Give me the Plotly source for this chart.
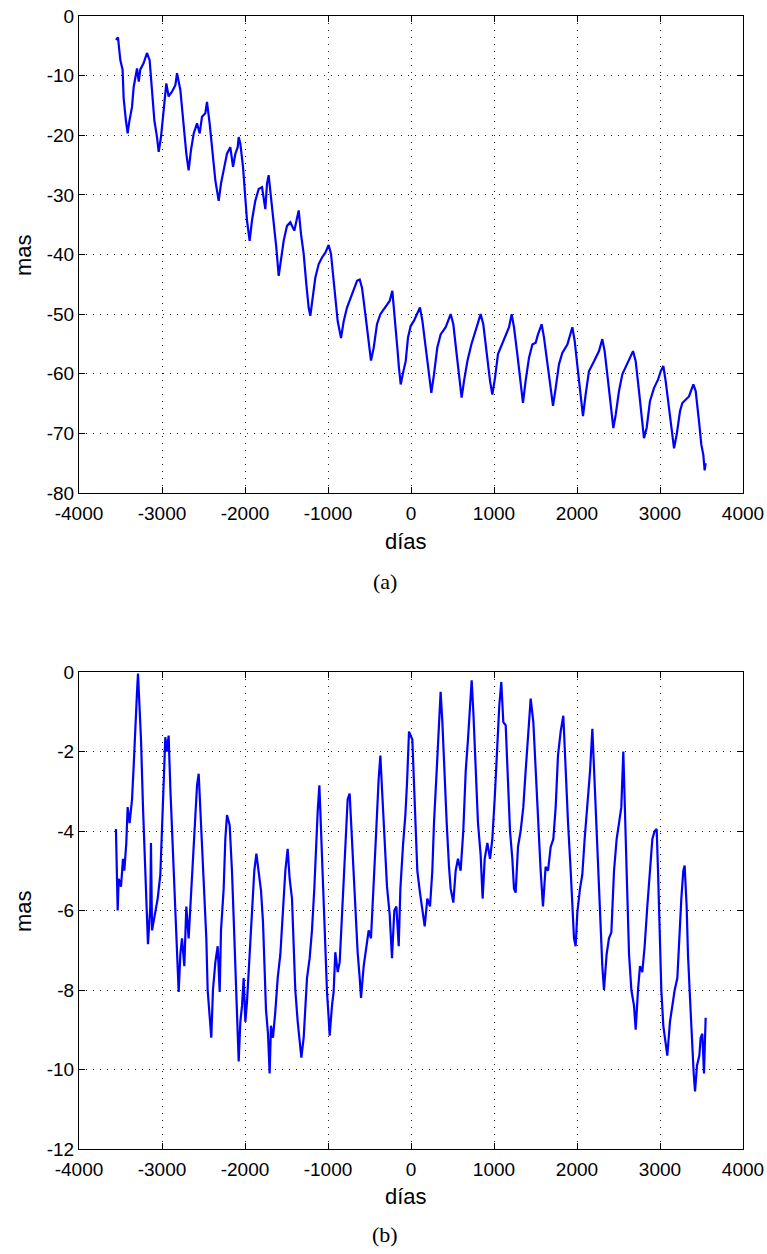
import plotly.graph_objects as go

# ---- data ----
dias_a = [-3555,-3530,-3520,-3502,-3475,-3462,-3435,-3414,-3395,-3361,-3341,-3321,-3301,-3280,-3262,-3221,-3181,-3149,-3120,-3092,-3060,-3040,-3012,-2980,-2948,-2920,-2880,-2839,-2819,-2779,-2747,-2707,-2679,-2651,-2618,-2578,-2546,-2518,-2478,-2458,-2426,-2397,-2357,-2317,-2289,-2249,-2217,-2177,-2144,-2116,-2088,-2076,-2056,-2024,-1996,-1976,-1944,-1916,-1876,-1835,-1795,-1755,-1735,-1715,-1687,-1655,-1623,-1594,-1566,-1534,-1494,-1454,-1406,-1353,-1325,-1293,-1261,-1233,-1213,-1181,-1153,-1112,-1072,-1032,-992,-964,-932,-883,-843,-811,-771,-711,-650,-618,-590,-550,-510,-482,-450,-410,-369,-309,-257,-225,-197,-165,-145,-124,-92,-64,-36,-4,36,76,108,137,165,197,229,245,277,317,357,418,478,510,550,590,610,639,679,727,779,839,871,912,952,980,1012,1048,1088,1141,1181,1213,1241,1281,1321,1349,1381,1422,1462,1502,1530,1574,1602,1642,1683,1711,1743,1783,1823,1884,1944,1972,2012,2044,2072,2104,2144,2205,2265,2305,2333,2374,2414,2438,2466,2506,2546,2586,2639,2675,2707,2747,2787,2807,2839,2879,2927,2976,3008,3040,3068,3108,3149,3169,3201,3241,3269,3309,3349,3402,3430,3470,3498,3522,3538,3550]
mas_a = [-4.0,-3.6,-5.0,-7.4,-9.0,-13.8,-17.5,-19.7,-17.8,-15.2,-11.9,-10.2,-8.8,-11.0,-9.0,-7.9,-6.2,-7.4,-11.9,-17.5,-20.3,-22.8,-20.3,-15.8,-11.3,-13.5,-12.7,-11.6,-9.6,-12.4,-17.5,-23.1,-25.9,-22.5,-19.7,-18.0,-19.7,-16.9,-16.3,-14.4,-18.0,-22.0,-27.6,-31.0,-28.1,-25.3,-23.1,-22.0,-25.3,-23.1,-22.0,-20.3,-21.4,-25.3,-31.0,-34.3,-37.7,-34.3,-31.0,-29.0,-28.7,-32.4,-28.1,-26.7,-30.4,-34.3,-38.8,-43.6,-41.1,-37.7,-35.2,-34.6,-36.0,-32.6,-36.6,-39.9,-45.0,-48.9,-50.3,-47.2,-43.9,-41.6,-40.5,-39.7,-38.4,-39.9,-44.4,-51.2,-54.0,-51.2,-48.9,-46.7,-44.4,-44.2,-45.6,-50.0,-54.6,-57.8,-55.7,-51.7,-50.0,-48.9,-47.8,-46.1,-50.0,-55.6,-59.0,-61.8,-59.6,-57.9,-53.9,-52.0,-51.1,-50.0,-48.9,-51.1,-54.5,-58.4,-61.2,-63.2,-60.1,-55.6,-53.4,-52.2,-50.0,-51.7,-56.7,-61.2,-64.0,-61.2,-57.9,-55.1,-52.8,-50.0,-51.7,-56.7,-61.2,-63.5,-60.7,-56.7,-55.3,-53.4,-52.2,-50.0,-52.2,-56.7,-61.2,-64.9,-61.2,-57.3,-55.1,-54.8,-53.4,-51.7,-53.9,-58.4,-62.4,-65.4,-62.4,-58.4,-56.5,-55.1,-52.2,-54.5,-59.6,-64.0,-67.1,-63.5,-59.6,-57.9,-56.2,-54.2,-56.2,-61.2,-66.3,-69.1,-66.9,-62.9,-60.1,-59.0,-57.3,-56.2,-57.9,-62.9,-68.0,-70.8,-69.1,-64.6,-62.4,-61.0,-59.6,-58.7,-61.2,-65.7,-70.2,-72.5,-70.2,-66.3,-64.9,-64.3,-63.8,-61.8,-62.9,-68.0,-71.9,-73.6,-76.2,-75.0]

dias_b = [-3555,-3550,-3546,-3534,-3522,-3494,-3470,-3454,-3430,-3414,-3390,-3361,-3341,-3321,-3301,-3289,-3269,-3253,-3229,-3201,-3181,-3169,-3141,-3133,-3120,-3080,-3052,-3020,-3000,-2980,-2960,-2940,-2920,-2900,-2880,-2851,-2827,-2811,-2799,-2779,-2759,-2731,-2707,-2679,-2659,-2626,-2598,-2578,-2558,-2538,-2518,-2490,-2466,-2450,-2426,-2406,-2386,-2357,-2329,-2305,-2289,-2257,-2237,-2217,-2185,-2157,-2128,-2104,-2088,-2076,-2056,-2036,-2016,-1996,-1976,-1956,-1936,-1916,-1888,-1863,-1835,-1807,-1783,-1767,-1747,-1723,-1703,-1687,-1663,-1635,-1606,-1574,-1542,-1514,-1486,-1462,-1434,-1414,-1394,-1365,-1341,-1321,-1293,-1273,-1253,-1221,-1193,-1165,-1141,-1124,-1104,-1084,-1060,-1032,-1012,-992,-980,-952,-932,-912,-883,-859,-831,-803,-779,-763,-739,-723,-699,-671,-643,-618,-602,-570,-538,-510,-482,-450,-418,-390,-369,-349,-321,-289,-257,-229,-201,-176,-148,-128,-96,-68,-48,-24,16,44,76,108,137,165,197,229,257,277,309,337,357,378,398,430,458,478,510,538,566,598,630,659,687,711,731,751,779,807,839,863,888,920,952,980,1008,1040,1064,1088,1112,1141,1161,1193,1221,1241,1261,1289,1321,1353,1381,1410,1442,1474,1502,1530,1562,1590,1622,1651,1683,1715,1743,1771,1803,1835,1863,1892,1924,1944,1964,1984,2004,2036,2064,2092,2124,2157,2185,2205,2237,2265,2285,2305,2325,2357,2385,2414,2446,2478,2506,2534,2558,2574,2598,2627,2655,2687,2707,2735,2759,2787,2815,2847,2880,2908,2936,2960,2976,3000,3016,3040,3068,3088,3120,3149,3177,3209,3229,3257,3281,3297,3321,3337,3366,3382,3406,3422,3446,3474,3490,3510,3530,3550]
mas_b = [-3.95,-4.6,-5.5,-6.0,-5.2,-5.4,-4.7,-5.0,-4.3,-3.4,-3.8,-3.2,-2.35,-1.26,-0.5,-0.04,-0.84,-1.7,-3.4,-5.0,-6.5,-6.85,-5.9,-4.3,-6.5,-6.0,-5.7,-5.1,-3.8,-2.5,-1.64,-2.0,-1.6,-2.9,-4.0,-5.4,-6.5,-7.55,-8.05,-7.1,-6.7,-7.4,-5.9,-6.7,-5.9,-4.9,-3.8,-2.85,-2.56,-3.5,-4.2,-5.45,-6.7,-8.0,-8.7,-9.2,-8.0,-7.3,-6.9,-8.05,-6.5,-5.45,-4.2,-3.6,-3.85,-5.0,-6.7,-8.0,-8.8,-9.8,-8.8,-8.4,-7.7,-8.8,-8.3,-7.55,-6.7,-5.9,-5.0,-4.57,-5.1,-5.5,-6.3,-7.55,-8.5,-9.1,-10.1,-8.9,-9.2,-8.55,-7.7,-7.1,-5.9,-5.0,-4.45,-5.2,-5.7,-6.7,-8.0,-8.8,-9.4,-9.7,-9.2,-8.4,-7.7,-7.2,-6.5,-5.45,-4.2,-3.5,-2.85,-4.0,-5.45,-6.7,-8.05,-8.7,-9.15,-8.4,-8.05,-7.05,-7.55,-7.3,-6.0,-5.0,-3.8,-3.2,-3.06,-3.7,-5.0,-6.0,-7.05,-7.7,-8.2,-7.4,-6.9,-6.5,-6.7,-5.45,-3.95,-2.7,-2.1,-2.95,-4.2,-5.4,-6.1,-7.2,-6.0,-5.9,-6.9,-5.45,-4.35,-3.6,-2.8,-1.5,-1.7,-3.4,-5.0,-5.55,-6.05,-6.4,-5.7,-5.9,-5.0,-3.8,-2.5,-1.5,-0.5,-1.26,-2.35,-3.8,-4.9,-5.45,-5.8,-5.0,-4.7,-5.0,-4.0,-2.5,-1.68,-0.84,-0.21,-1.0,-2.5,-3.8,-4.6,-5.7,-4.7,-4.3,-4.7,-4.2,-3.2,-1.68,-0.84,-0.25,-1.26,-1.34,-2.5,-4.0,-4.7,-5.45,-5.55,-4.4,-4.0,-3.4,-2.5,-1.68,-0.67,-1.26,-2.5,-3.8,-5.0,-5.9,-4.9,-5.0,-4.4,-4.2,-3.4,-2.1,-1.5,-1.1,-2.5,-3.8,-5.0,-5.9,-6.7,-6.9,-6.05,-5.45,-5.1,-4.2,-3.4,-2.5,-1.43,-2.5,-4.2,-5.45,-6.7,-7.4,-8.0,-7.1,-6.7,-6.55,-5.0,-4.2,-3.8,-3.4,-2.0,-3.5,-5.0,-7.1,-8.0,-8.4,-9.0,-8.0,-7.4,-7.55,-6.9,-5.9,-5.0,-4.2,-4.0,-3.95,-5.0,-6.7,-8.0,-8.9,-9.4,-9.65,-8.8,-8.4,-8.0,-7.7,-6.7,-5.7,-5.0,-4.87,-5.9,-7.1,-8.4,-9.2,-10.1,-10.55,-9.9,-9.65,-9.2,-9.1,-10.1,-8.7]

x_ticks = [-4000, -3000, -2000, -1000, 0, 1000, 2000, 3000, 4000]
y_ticks_a = [-80, -70, -60, -50, -40, -30, -20, -10, 0]
y_ticks_b = [-12, -10, -8, -6, -4, -2, 0]

def labels(vals):
    return [str(v) for v in vals]  # plain hyphen-minus, as in the reference

W, H = 767, 1254
def fx(px): return px / W
def fy(py): return 1 - py / H

fig = go.Figure()
fig.add_trace(go.Scatter(x=dias_a, y=mas_a, mode="lines",
                         line=dict(color="#0000ff", width=2.2), xaxis="x", yaxis="y",
                         showlegend=False))
fig.add_trace(go.Scatter(x=dias_b, y=mas_b, mode="lines",
                         line=dict(color="#0000ff", width=2.2), xaxis="x2", yaxis="y2",
                         showlegend=False))

tickfont = dict(family="Liberation Sans, Arial, sans-serif", size=19, color="black")
common = dict(showline=True, linecolor="black", linewidth=1, mirror="ticks",
              ticks="inside", ticklen=6, tickcolor="black", tickwidth=1,
              showgrid=True, gridcolor="#222222", gridwidth=1, griddash="1px,6px",
              zeroline=False, tickfont=tickfont, automargin=False)
xcommon = dict(common, ticklabelstandoff=3)

fig.update_layout(
    width=W, height=H,
    margin=dict(l=0, r=0, t=0, b=0, pad=0),
    paper_bgcolor="white", plot_bgcolor="white",
    xaxis=dict(domain=[fx(79), fx(743)], range=[-4000, 4000], tickvals=x_ticks,
               ticktext=labels(x_ticks), anchor="y", **xcommon),
    yaxis=dict(domain=[fy(493), fy(16)], range=[-80, 0], tickvals=y_ticks_a,
               ticktext=labels(y_ticks_a), anchor="x", **common),
    xaxis2=dict(domain=[fx(79), fx(743)], range=[-4000, 4000], tickvals=x_ticks,
                ticktext=labels(x_ticks), anchor="y2", **xcommon),
    yaxis2=dict(domain=[fy(1149), fy(672)], range=[-12, 0], tickvals=y_ticks_b,
                ticktext=labels(y_ticks_b), anchor="x2", **common),
)

labfont = dict(family="Liberation Sans, Arial, sans-serif", size=22, color="black")
capfont = dict(family="Liberation Serif, DejaVu Serif, serif", size=22, color="black")
ann = [
    dict(text="días", x=fx(406), y=fy(541), font=labfont),
    dict(text="mas", x=fx(23), y=fy(255), font=labfont, textangle=-90),
    dict(text="(a)", x=fx(385), y=fy(581), font=capfont),
    dict(text="días", x=fx(406), y=fy(1196), font=labfont),
    dict(text="mas", x=fx(23), y=fy(911), font=labfont, textangle=-90),
    dict(text="(b)", x=fx(385), y=fy(1234), font=capfont),
]
for a in ann:
    fig.add_annotation(xref="paper", yref="paper", showarrow=False,
                       xanchor="center", yanchor="middle", **a)

fig.write_html("out.html")
